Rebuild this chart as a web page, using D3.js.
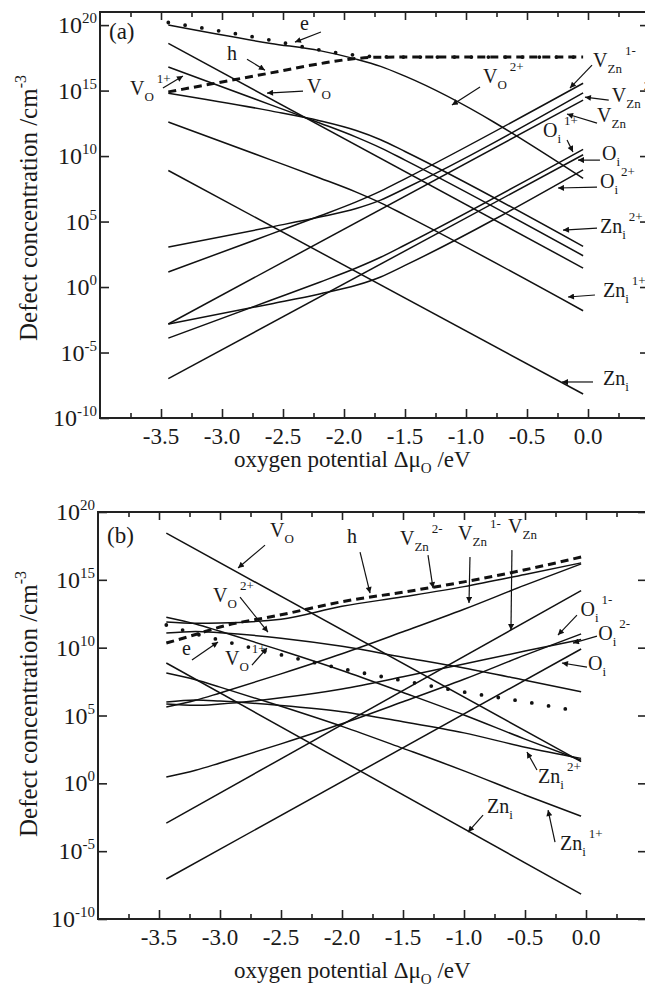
<!DOCTYPE html>
<html><head><meta charset="utf-8">
<script src="https://cdn.jsdelivr.net/npm/d3@7"></script>
<style>
body{margin:0;background:#fff}
svg{display:block}
text{font-family:"Liberation Serif","Times New Roman",serif;fill:#1a1a1a}
</style>
</head><body>
<svg id="c" width="645" height="990"></svg>
<script>
// ---------- tick data ----------
const xTickValues = [-3.5, -3.0, -2.5, -2.0, -1.5, -1.0, -0.5, 0.0];
const xMinorValues = [-3.75, -3.25, -2.75, -2.25, -1.75, -1.25, -0.75, -0.25, 0.25];
const yTickExponents = [-10, -5, 0, 5, 10, 15, 20];

// ---------- panel (a): log10 concentration (cm^-3) ----------
const xA = [-3.44, -2.6, -2.2, -1.9, -1.7, -1.5, -0.04];
const xStraight = [-3.44, -0.04];
const a_e     = [20.2, 18.85, 18.1, 17.7, 17.58, 17.56, 17.56];
const a_h     = [14.9, 16.35, 17.05, 17.45, 17.55, 17.56, 17.56];
const a_VO2p  = [20.0, 18.6, 18.05, 17.4, 16.85, 16.1, 8.3];
const a_VO1p  = [16.8, 13.91, 12.53, 11.45, 10.63, 9.69, 2.39];
const a_Zni2p = [14.8, 13.45, 12.7, 11.95, 11.25, 10.35, 3.1];
const a_Zni1p = [12.6, 9.71, 8.33, 7.25, 6.43, 5.49, -1.81];
const a_VZn2m = [3.05, 4.58, 5.34, 6.0, 6.64, 7.52, 14.82];
const a_VZn1m = [1.15, 4.04, 5.42, 6.5, 7.32, 8.26, 15.56];
const a_Oi2p  = [-2.82, -1.29, -0.53, 0.13, 0.77, 1.65, 8.95];
const a_Oi1p  = [-3.9, -1.01, 0.37, 1.45, 2.27, 3.21, 10.51];
const a_VO    = [18.6, 1.45];
const a_Zni   = [8.9, -8.17];
const a_VZn   = [-2.82, 14.27];
const a_Oi    = [-7.0, 10.1];

// ---------- panel (b) ----------
const xB = [-3.44, -3.2, -3.0, -2.5, -2.0, -1.5, -1.0, -0.5, -0.04];
const b_e     = [11.67, 11.02, 10.56, 9.47, 8.45, 7.57, 6.73, 6.01, 5.27];
const b_h     = [10.34, 10.97, 11.52, 12.42, 13.39, 14.09, 14.85, 15.74, 16.68];
const b_VZn2m = [11.89, 11.8, 11.82, 12.1, 13.05, 13.75, 14.5, 15.4, 16.25];
const b_VZn1m = [5.62, 6.12, 6.66, 8.07, 9.55, 11.17, 12.83, 14.61, 16.17];
const b_Oi1m  = [0.46, 0.96, 1.5, 2.91, 4.39, 6.01, 7.67, 9.45, 11.01];
const b_Oi2m  = [5.84, 5.75, 5.85, 6.3, 6.95, 7.85, 8.8, 9.75, 10.6];
const b_VO1p  = [12.25, 11.75, 11.21, 9.8, 8.32, 6.7, 5.04, 3.26, 1.7];
const b_VO2p  = [11.08, 11.2, 11.1, 10.7, 10.1, 9.3, 8.5, 7.6, 6.75];
const b_Zni1p = [8.13, 7.63, 7.09, 5.68, 4.2, 2.58, 0.92, -0.86, -2.42];
const b_Zni2p = [5.99, 6.14, 6.06, 5.74, 5.28, 4.54, 3.72, 2.66, 1.84];
const b_VO    = [18.44, 1.6];
const b_Zni   = [8.87, -8.16];
const b_VZn   = [-2.93, 14.2];
const b_Oi    = [-7.05, 9.9];

// ---------- annotations (data coords: x in eV, y = log10 conc) ----------
// [main, sub, sup, x, y]
const labelsA = [
  ["e", "", "", -2.36, 19.62],
  ["h", "", "", -2.96, 17.33],
  ["V", "O", "1+", -3.754, 14.66],
  ["V", "O", "", -2.303, 14.81],
  ["V", "O", "2+", -0.861, 15.57],
  ["V", "Zn", "1-", 0.041, 16.79],
  ["V", "Zn", "2-", 0.195, 14.12],
  ["V", "Zn", "", 0.074, 12.60],
  ["O", "i", "1+", -0.369, 11.45],
  ["O", "i", "", 0.115, 9.69],
  ["O", "i", "2+", 0.098, 7.56],
  ["Zn", "i", "2+", 0.098, 4.12],
  ["Zn", "i", "1+", 0.123, -0.76],
  ["Zn", "i", "", 0.123, -7.48]
];
// [x1, y1, x2, y2] arrow from label to curve
const arrowsA = [
  [-2.189, 19.47, -2.402, 18.70],
  [-2.795, 17.40, -2.648, 16.56],
  [-3.484, 15.19, -3.320, 16.11],
  [-2.336, 14.96, -2.631, 14.81],
  [-0.885, 15.27, -1.115, 13.89],
  [0.033, 16.95, -0.148, 15.19],
  [0.170, 14.27, -0.025, 14.50],
  [0.074, 12.52, -0.172, 13.21],
  [-0.172, 11.22, -0.123, 10.31],
  [0.098, 9.69, -0.082, 9.69],
  [0.074, 7.63, -0.246, 7.56],
  [0.074, 4.50, -0.205, 4.35],
  [0.057, -0.61, -0.164, -0.76],
  [0.041, -7.25, -0.213, -7.25]
];
const labelsB = [
  ["V", "O", "", -2.590, 18.15],
  ["V", "O", "2+", -3.057, 13.36],
  ["e", "", "", -3.311, 9.45],
  ["V", "O", "1+", -2.959, 8.72],
  ["h", "", "", -1.959, 17.71],
  ["V", "Zn", "2-", -1.525, 17.56],
  ["V", "Zn", "1-", -1.049, 17.93],
  ["V", "Zn", "", -0.639, 18.45],
  ["O", "i", "1-", -0.045, 12.30],
  ["O", "i", "2-", 0.100, 10.60],
  ["O", "i", "", 0.016, 8.35],
  ["Zn", "i", "2+", -0.393, 0.02],
  ["Zn", "i", "", -0.811, -2.19],
  ["Zn", "i", "1+", -0.213, -4.92]
];
const arrowsB = [
  [-2.631, 17.56, -2.852, 15.87],
  [-2.836, 13.73, -2.607, 11.15],
  [-3.230, 9.09, -3.016, 10.41],
  [-2.738, 8.72, -2.615, 9.97],
  [-1.852, 17.05, -1.770, 14.02],
  [-1.295, 16.82, -1.254, 14.39],
  [-0.951, 16.68, -0.959, 13.29],
  [-0.607, 17.19, -0.615, 11.30],
  [-0.074, 12.40, -0.230, 10.93],
  [0.090, 10.85, -0.107, 10.34],
  [0.008, 8.57, -0.197, 8.87],
  [-0.402, 0.98, -0.484, 2.31],
  [-0.844, -2.34, -0.967, -3.59],
  [-0.254, -4.33, -0.311, -1.97]
];

// ---------- drawing ----------
const svg = d3.select("#c");
svg.append("defs").append("marker")
  .attr("id", "ah").attr("viewBox", "0 0 10 10")
  .attr("refX", 10).attr("refY", 5)
  .attr("markerWidth", 10).attr("markerHeight", 6)
  .attr("markerUnits", "userSpaceOnUse")
  .attr("orient", "auto")
  .append("path").attr("d", "M0,0 L10,5 L0,10 Z").attr("fill", "#111");

function panel(cfg) {
  const x = d3.scaleLinear().domain([-4, 0.5]).range([cfg.left, cfg.right]);
  const y = d3.scaleLog().domain(cfg.yDomain).range([cfg.bottom, cfg.top]);
  const g = svg.append("g");
  const L = (v) => y(Math.pow(10, v));

  // curves
  const line = d3.line().x(d => x(d[0])).y(d => L(d[1]));
  cfg.series.forEach(s => {
    const pts = s.xs.map((xx, i) => [xx, s.ys[i]]);
    const p = g.append("path")
      .attr("d", line.curve(s.xs.length > 2 ? d3.curveMonotoneX : d3.curveLinear)(pts))
      .attr("fill", "none").attr("stroke", "#111");
    if (s.style === "dash") {
      p.attr("stroke-width", 3).attr("stroke-dasharray", "8,5");
    } else if (s.style === "dot") {
      p.attr("stroke-width", 3.8).attr("stroke-dasharray", "0,17").attr("stroke-linecap", "round");
    } else {
      p.attr("stroke-width", 1.5);
    }
  });

  // frame
  g.append("rect").attr("x", cfg.left).attr("y", cfg.top)
    .attr("width", cfg.right - cfg.left).attr("height", cfg.bottom - cfg.top)
    .attr("fill", "none").attr("stroke", "#222").attr("stroke-width", 2);

  // axes ticks via d3 axes (inward)
  const styleAxis = sel => {
    sel.select(".domain").remove();
    sel.selectAll(".tick line").attr("stroke", "#222").attr("stroke-width", 1.6);
    sel.selectAll(".tick text").remove();
  };
  g.append("g").attr("transform", `translate(0,${cfg.bottom})`)
    .call(d3.axisBottom(x).tickValues(xTickValues).tickSize(-9).tickSizeOuter(0)).call(styleAxis);
  g.append("g").attr("transform", `translate(0,${cfg.bottom})`)
    .call(d3.axisBottom(x).tickValues(xMinorValues).tickSize(-5).tickSizeOuter(0)).call(styleAxis);
  g.append("g").attr("transform", `translate(0,${cfg.top})`)
    .call(d3.axisTop(x).tickValues(xTickValues).tickSize(-8).tickSizeOuter(0)).call(styleAxis);
  g.append("g").attr("transform", `translate(0,${cfg.top})`)
    .call(d3.axisTop(x).tickValues(xMinorValues).tickSize(-5).tickSizeOuter(0)).call(styleAxis);
  const yTicks = yTickExponents.map(e => Math.pow(10, e));
  g.append("g").attr("transform", `translate(${cfg.left},0)`)
    .call(d3.axisLeft(y).tickValues(yTicks).tickSize(-9).tickSizeOuter(0)).call(styleAxis);
  g.append("g").attr("transform", `translate(${cfg.right},0)`)
    .call(d3.axisRight(y).tickValues(yTicks).tickSize(-9).tickSizeOuter(0)).call(styleAxis);

  // x tick labels
  xTickValues.forEach(v => {
    g.append("text").attr("x", x(v)).attr("y", cfg.bottom + cfg.xLabelDy)
      .attr("text-anchor", "middle").attr("font-size", 23)
      .text(v.toFixed(1));
  });
  // y tick labels 10^n
  yTickExponents.forEach(e => {
    const t = g.append("text").attr("x", cfg.left - 3).attr("y", y(Math.pow(10, e)) + 8)
      .attr("text-anchor", "end").attr("font-size", 24);
    t.append("tspan").text("10");
    t.append("tspan").attr("font-size", 15).attr("dy", -10).text(String(e));
  });

  // axis titles
  const xt = g.append("text").attr("x", cfg.xTitleX).attr("y", cfg.bottom + cfg.xTitleDy)
    .attr("font-size", 23);
  xt.append("tspan").text("oxygen potential Δμ");
  xt.append("tspan").attr("font-size", 15).attr("dy", 6).text("O");
  xt.append("tspan").attr("dy", -6).text(" /eV");

  const yt = g.append("text")
    .attr("transform", `translate(37,${cfg.yTitleY}) rotate(-90)`)
    .attr("text-anchor", "middle").attr("font-size", 25);
  yt.append("tspan").text("Defect concentration /cm");
  yt.append("tspan").attr("font-size", 16).attr("dy", -11).text("-3");

  // panel tag
  g.append("text").attr("x", cfg.left + cfg.tagDx).attr("y", cfg.top + cfg.tagDy)
    .attr("font-size", 23).text(cfg.tag);

  // labels
  cfg.labels.forEach(([m, sb, sp, lx, ly]) => {
    const t = g.append("text").attr("x", x(lx)).attr("y", L(ly)).attr("font-size", 20);
    t.append("tspan").text(m);
    if (sb) t.append("tspan").attr("font-size", 13).attr("dy", 6).text(sb);
    if (sp) t.append("tspan").attr("font-size", 13).attr("dx", 3).attr("dy", sb ? -18 : -10).text(sp);
  });
  // arrows
  cfg.arrows.forEach(([x1, y1, x2, y2]) => {
    g.append("line").attr("x1", x(x1)).attr("y1", L(y1)).attr("x2", x(x2)).attr("y2", L(y2))
      .attr("stroke", "#111").attr("stroke-width", 1.2).attr("marker-end", "url(#ah)");
  });
}

panel({
  left: 100, right: 649, top: 12, bottom: 418, yDomain: [1e-10, 1e21],
  xLabelDy: 26, xTitleDy: 49, xTitleX: 234, yTitleY: 208,
  tag: "(a)", tagDx: 9, tagDy: 27,
  series: [
    {xs: xA, ys: a_e, style: "dot"},
    {xs: xA, ys: a_h, style: "dash"},
    {xs: xA, ys: a_VO2p}, {xs: xA, ys: a_VO1p}, {xs: xA, ys: a_Zni2p}, {xs: xA, ys: a_Zni1p},
    {xs: xA, ys: a_VZn2m}, {xs: xA, ys: a_VZn1m}, {xs: xA, ys: a_Oi2p}, {xs: xA, ys: a_Oi1p},
    {xs: xStraight, ys: a_VO}, {xs: xStraight, ys: a_Zni}, {xs: xStraight, ys: a_VZn}, {xs: xStraight, ys: a_Oi}
  ],
  labels: labelsA, arrows: arrowsA
});

panel({
  left: 98, right: 647, top: 512, bottom: 919, yDomain: [1e-10, 1e20],
  xLabelDy: 26, xTitleDy: 59, xTitleX: 234, yTitleY: 704,
  tag: "(b)", tagDx: 9, tagDy: 31,
  series: [
    {xs: xB, ys: b_e, style: "dot"},
    {xs: xB, ys: b_h, style: "dash"},
    {xs: xB, ys: b_VZn2m}, {xs: xB, ys: b_VZn1m}, {xs: xB, ys: b_Oi1m}, {xs: xB, ys: b_Oi2m},
    {xs: xB, ys: b_VO1p}, {xs: xB, ys: b_VO2p}, {xs: xB, ys: b_Zni1p}, {xs: xB, ys: b_Zni2p},
    {xs: xStraight, ys: b_VO}, {xs: xStraight, ys: b_Zni}, {xs: xStraight, ys: b_VZn}, {xs: xStraight, ys: b_Oi}
  ],
  labels: labelsB, arrows: arrowsB
});
</script>
</body></html>
